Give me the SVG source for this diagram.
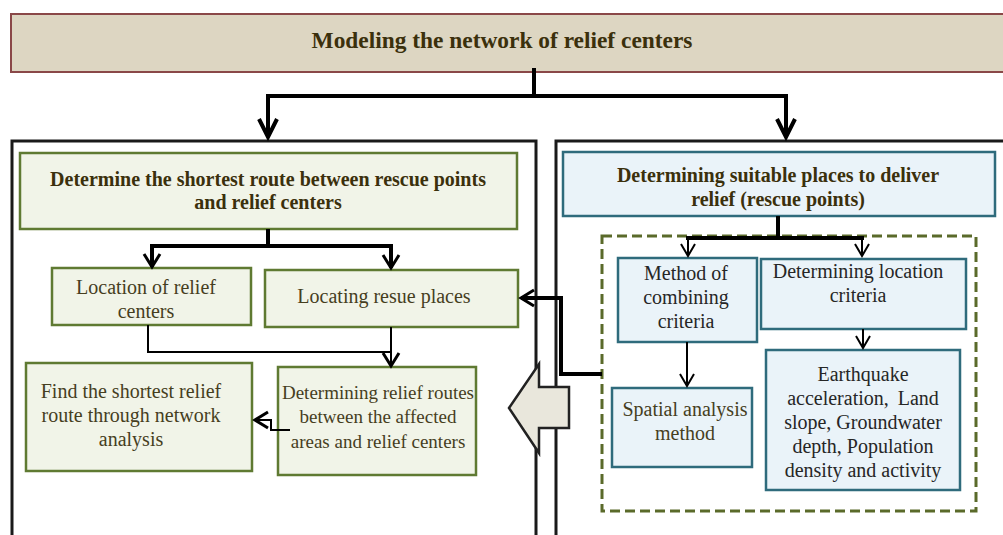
<svg xmlns="http://www.w3.org/2000/svg" width="1003" height="535" viewBox="0 0 1003 535">
<defs>
<style>
.panel{fill:#fff;stroke:#1a1a1a;stroke-width:3}
.g{fill:#f1f4e8;stroke:#5f7a32;stroke-width:2.5}
.b{fill:#eaf3f9;stroke:#2f6b7c;stroke-width:2.5}
.t{font-family:"Liberation Serif","Times New Roman",serif;font-size:20px;fill:#463e1e;text-anchor:middle}
.tb{font-family:"Liberation Serif","Times New Roman",serif;font-size:20px;font-weight:bold;fill:#3b300c;text-anchor:middle}
.tk{fill:#262626}
.c4{fill:none;stroke:#000;stroke-width:4}
.c2{fill:none;stroke:#000;stroke-width:2}
</style>
<marker id="ah4" markerUnits="userSpaceOnUse" orient="auto" overflow="visible" refX="0" refY="0" markerWidth="1" markerHeight="1"><path d="M-18,-9 L0,0 L-18,9" fill="none" stroke="#000" stroke-width="4"/></marker>
<marker id="ah3" markerUnits="userSpaceOnUse" orient="auto" overflow="visible" refX="0" refY="0" markerWidth="1" markerHeight="1"><path d="M-13,-8 L0,0 L-13,8" fill="none" stroke="#000" stroke-width="3"/></marker>
<marker id="ah2" markerUnits="userSpaceOnUse" orient="auto" overflow="visible" refX="0" refY="0" markerWidth="1" markerHeight="1"><path d="M-12,-7 L0,0 L-12,7" fill="none" stroke="#000" stroke-width="2"/></marker>
</defs>

<g id="title">
<rect x="11" y="14" width="1010" height="58" fill="#ddd6c2" stroke="#8a4848" stroke-width="2"/>
<text x="502" y="48" class="tb" style="font-size:23.4px">Modeling the network of relief centers</text>
</g>

<g id="panel-left"><rect class="panel" x="12" y="141" width="524" height="420"/></g>
<g id="panel-right"><rect class="panel" x="556" y="141" width="470" height="420"/></g>

<g id="dashed-group"><rect x="602" y="236" width="374" height="275" fill="none" stroke="#5a6a2a" stroke-width="3" stroke-dasharray="10,5"/></g>

<g id="shortest-route">
<rect class="g" x="20" y="153" width="497" height="76"/>
<text class="tb" x="268" y="186">Determine the shortest route between rescue points</text>
<text class="tb" x="268" y="209">and relief centers</text>
</g>

<g id="location-relief">
<rect class="g" x="52" y="268" width="199" height="57"/>
<text class="t" x="146" y="294">Location of relief</text>
<text class="t" x="146" y="318">centers</text>
</g>

<g id="locating-rescue">
<rect class="g" x="265" y="270" width="253" height="57"/>
<text class="t" x="384" y="303">Locating resue places</text>
</g>

<g id="determining-routes">
<rect class="g" x="278" y="367" width="198" height="108"/>
<text class="t" x="378" y="399" style="font-size:19px">Determining relief routes</text>
<text class="t" x="378" y="423" style="font-size:19px">between the affected</text>
<text class="t" x="378" y="448" style="font-size:19px">areas and relief centers</text>
</g>

<g id="find-shortest">
<rect class="g" x="26" y="363" width="226" height="108"/>
<text class="t" x="131" y="398">Find the shortest relief</text>
<text class="t" x="131" y="422">route through network</text>
<text class="t" x="131" y="446">analysis</text>
</g>

<g id="suitable-places">
<rect class="b" x="563" y="152" width="432" height="64"/>
<text class="tb" x="778" y="182">Determining suitable places to deliver</text>
<text class="tb" x="778" y="206">relief (rescue points)</text>
</g>

<g id="method-combining">
<rect class="b" x="618" y="258" width="139" height="84"/>
<text class="t tk" x="686" y="280">Method of</text>
<text class="t tk" x="686" y="304">combining</text>
<text class="t tk" x="686" y="328">criteria</text>
</g>

<g id="location-criteria">
<rect class="b" x="761" y="259" width="205" height="70"/>
<text class="t tk" x="858" y="278">Determining location</text>
<text class="t tk" x="858" y="302">criteria</text>
</g>

<g id="spatial-analysis">
<rect class="b" x="612" y="388" width="140" height="79"/>
<text class="t" x="685" y="416">Spatial analysis</text>
<text class="t" x="685" y="440">method</text>
</g>

<g id="criteria-list">
<rect class="b" x="766" y="350" width="194" height="140"/>
<text class="t tk" x="863" y="381">Earthquake</text>
<text class="t tk" x="863" y="405" style="word-spacing:4px">acceleration, Land</text>
<text class="t tk" x="863" y="429">slope, Groundwater</text>
<text class="t tk" x="863" y="453">depth, Population</text>
<text class="t tk" x="863" y="477">density and activity</text>
</g>

<g id="connectors">
<path class="c4" d="M534,68 V96 M266,96 H788"/>
<path class="c4" d="M268,96 V137" marker-end="url(#ah4)"/>
<path class="c4" d="M786,96 V137" marker-end="url(#ah4)"/>
<path class="c4" d="M268,229 V246 M150,246 H393"/>
<path class="c4" d="M152,246 V267" marker-end="url(#ah3)"/>
<path class="c4" d="M391,246 V268" marker-end="url(#ah3)"/>
<path class="c4" d="M778,216 V238 M686,238 H864"/>
<path class="c2" d="M688,238 V256" marker-end="url(#ah2)"/>
<path class="c2" d="M862,238 V256" marker-end="url(#ah2)"/>
<path class="c2" d="M148,325 V352 H391"/>
<path class="c2" d="M391,327 V366" marker-end="url(#ah3)"/>
<path class="c2" d="M687,342 V386" marker-end="url(#ah2)"/>
<path class="c2" d="M863,329 V348" marker-end="url(#ah2)"/>
<path class="c2" d="M290,430 H271 V420 H255" marker-end="url(#ah3)"/>
<path class="c4" d="M602,374 H561 V298 H521" marker-end="url(#ah3)"/>
<path id="block-arrow" d="M509,408 L539,364 V387 H569 V428 H539 V453 Z" fill="#e9e7dc" stroke="#222" stroke-width="2.5" stroke-linejoin="miter"/>
</g>
</svg>
